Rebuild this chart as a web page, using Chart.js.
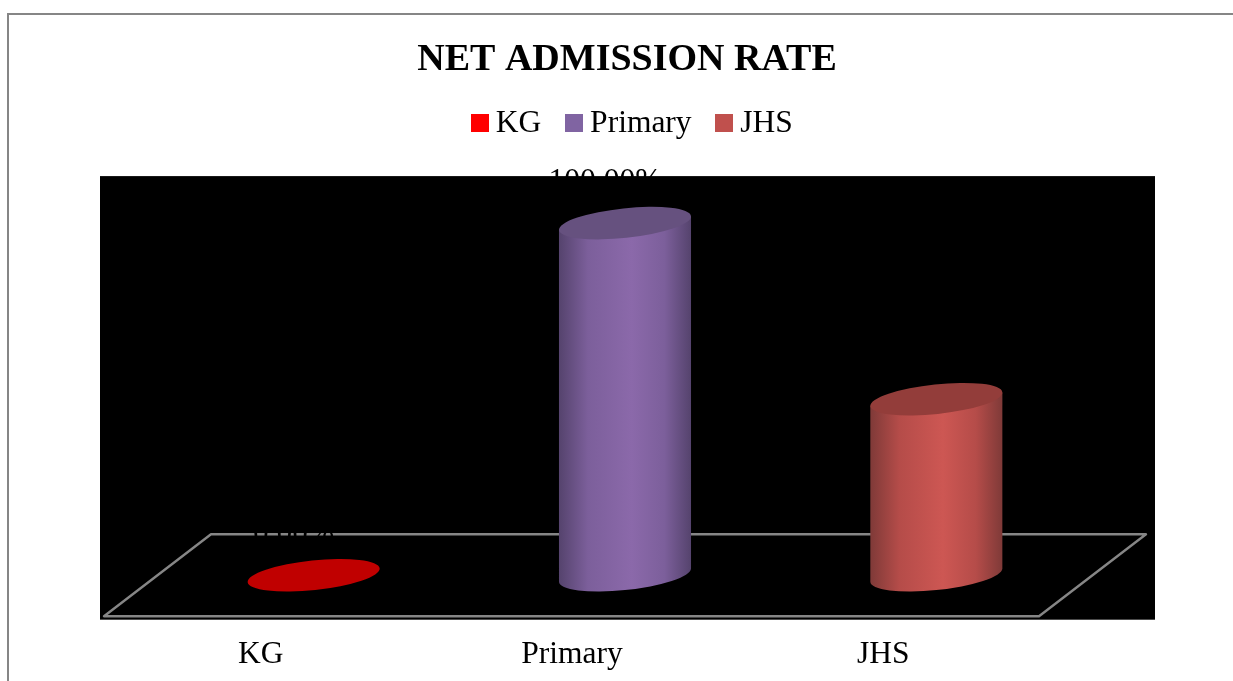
<!DOCTYPE html>
<html>
<head>
<meta charset="utf-8">
<title>NET ADMISSION RATE</title>
<script src="https://cdn.jsdelivr.net/npm/chart.js@4"></script>
<style>
html,body{margin:0;padding:0;background:#fff;overflow:hidden;width:1233px;height:681px}
canvas{position:absolute;left:0;top:0}
</style>
</head>
<body>
<canvas id="c" width="1254" height="693"></canvas>
<script>
const chartTitle = 'NET ADMISSION RATE';
const categories = ['KG', 'Primary', 'JHS'];
const admissionRates = [0, 100, 50];
const legendColors = ['#FF0000', '#8064A2', '#C0504D'];
const capColors = ['#C00000', '#66517F', '#933D3A'];
const sideLight = ['#C00000', '#8B69AA', '#CD5753'];
const sideMid = ['#C00000', '#7C5F9B', '#B54C49'];
const sideDark = ['#C00000', '#55436D', '#7F3A38'];

const FONT = '"Liberation Serif"';
const DEPTH_X = 53, DEPTH_Y = 41, TILT = -6 * Math.PI / 180, MINOR = 14.8;

function swatch(color) {
  const s = document.createElement('canvas');
  s.width = 18; s.height = 18;
  const g = s.getContext('2d');
  g.fillStyle = color; g.fillRect(0, 0, 18, 18);
  return s;
}

const sceneryPlugin = {
  id: 'scenery',
  afterLayout(chart) {
    const t = chart.titleBlock, l = chart.legend;
    if (t) { t.left += 55; t.right += 55; }
    if (l) { l.left += 64; l.right += 64; l.top -= 27; l.bottom -= 27; }
  },
  beforeDraw(chart) {
    const { ctx } = chart;
    ctx.save();
    ctx.strokeStyle = '#868686'; ctx.lineWidth = 2;
    ctx.beginPath(); ctx.moveTo(8, chart.height); ctx.lineTo(8, 14); ctx.lineTo(chart.width, 14); ctx.stroke();
    ctx.restore();
  }
};

const cylinderPlugin = {
  id: 'cylinders',
  beforeDatasetDraw(chart, args) {
    const { ctx, chartArea: a } = chart;
    ctx.save();
    ctx.fillStyle = '#000';
    ctx.fillRect(a.left - 5, a.top, a.right - a.left + 121, a.bottom - a.top + 3.5);
    ctx.strokeStyle = '#868686'; ctx.lineWidth = 2.4;
    ctx.lineJoin = 'round';
    ctx.beginPath();
    ctx.moveTo(a.left - 1, a.bottom);
    ctx.lineTo(a.right, a.bottom);
    ctx.lineTo(a.right + 2 * DEPTH_X + 1, a.bottom - 2 * DEPTH_Y);
    ctx.lineTo(a.left + 2 * DEPTH_X, a.bottom - 2 * DEPTH_Y);
    ctx.closePath();
    ctx.stroke();

    const meta = chart.getDatasetMeta(args.index);
    const y0 = chart.scales.y.getPixelForValue(0);
    meta.data.forEach((bar, i) => {
      const cx = bar.x + DEPTH_X, top = bar.y - DEPTH_Y, base = y0 - DEPTH_Y;
      const hw = bar.width / 2, major = hw / Math.cos(TILT);
      if (base - top > 0.5) {
        const t0 = Math.atan(-(MINOR / major) * Math.tan(TILT));
        const rx = major * Math.cos(t0) * Math.cos(TILT) - MINOR * Math.sin(t0) * Math.sin(TILT);
        const ry = major * Math.cos(t0) * Math.sin(TILT) + MINOR * Math.sin(t0) * Math.cos(TILT);
        const g = ctx.createLinearGradient(cx - rx, 0, cx + rx, 0);
        g.addColorStop(0, sideDark[i]);
        g.addColorStop(0.22, sideMid[i]);
        g.addColorStop(0.55, sideLight[i]);
        g.addColorStop(0.8, sideMid[i]);
        g.addColorStop(1, sideDark[i]);
        ctx.fillStyle = g;
        ctx.beginPath();
        ctx.moveTo(cx + rx, top + ry);
        ctx.ellipse(cx, base, major, MINOR, TILT, t0, t0 + Math.PI, false);
        ctx.lineTo(cx - rx, top - ry);
        ctx.closePath();
        ctx.fill();
      }
      ctx.fillStyle = capColors[i];
      ctx.beginPath();
      ctx.ellipse(cx, top, major, MINOR, TILT, 0, Math.PI * 2);
      ctx.fill();
      ctx.fillStyle = '#000';
      ctx.font = '31.5px ' + FONT;
      ctx.textAlign = 'center';
      ctx.textBaseline = 'middle';
      ctx.fillText(admissionRates[i].toFixed(2) + '%', cx - 20, top - 41);
    });
    ctx.restore();
    return false;
  }
};

Chart.defaults.font.family = FONT;
Chart.defaults.color = '#000';

new Chart(document.getElementById('c'), {
  type: 'bar',
  data: {
    labels: categories,
    datasets: [{
      label: chartTitle,
      data: admissionRates,
      backgroundColor: legendColors,
      barPercentage: 0.424,
      categoryPercentage: 1
    }]
  },
  options: {
    responsive: false,
    animation: false,
    layout: { padding: { left: 105, right: 215, top: 0, bottom: 0 } },
    scales: {
      x: {
        grid: { display: false, drawTicks: false },
        border: { display: false },
        ticks: { font: { size: 31.5 }, padding: 19.5, maxRotation: 0, color: '#000' }
      },
      y: { display: false, min: 0, max: 125 }
    },
    plugins: {
      title: {
        display: true,
        text: chartTitle,
        color: '#000',
        font: { size: 38, weight: 'bold' },
        padding: { top: 37, bottom: 20 }
      },
      legend: {
        display: true,
        labels: {
          font: { size: 31.5 },
          color: '#000',
          usePointStyle: true,
          pointStyleWidth: 1,
          boxHeight: 18,
          padding: 32,
          generateLabels: () => categories.map((name, i) => ({
            text: name,
            fontColor: '#000',
            fillStyle: legendColors[i],
            strokeStyle: legendColors[i],
            lineWidth: 0,
            pointStyle: swatch(legendColors[i]),
            datasetIndex: 0,
            index: i
          }))
        }
      },
      tooltip: { enabled: false }
    }
  },
  plugins: [sceneryPlugin, cylinderPlugin]
});
</script>
</body>
</html>
